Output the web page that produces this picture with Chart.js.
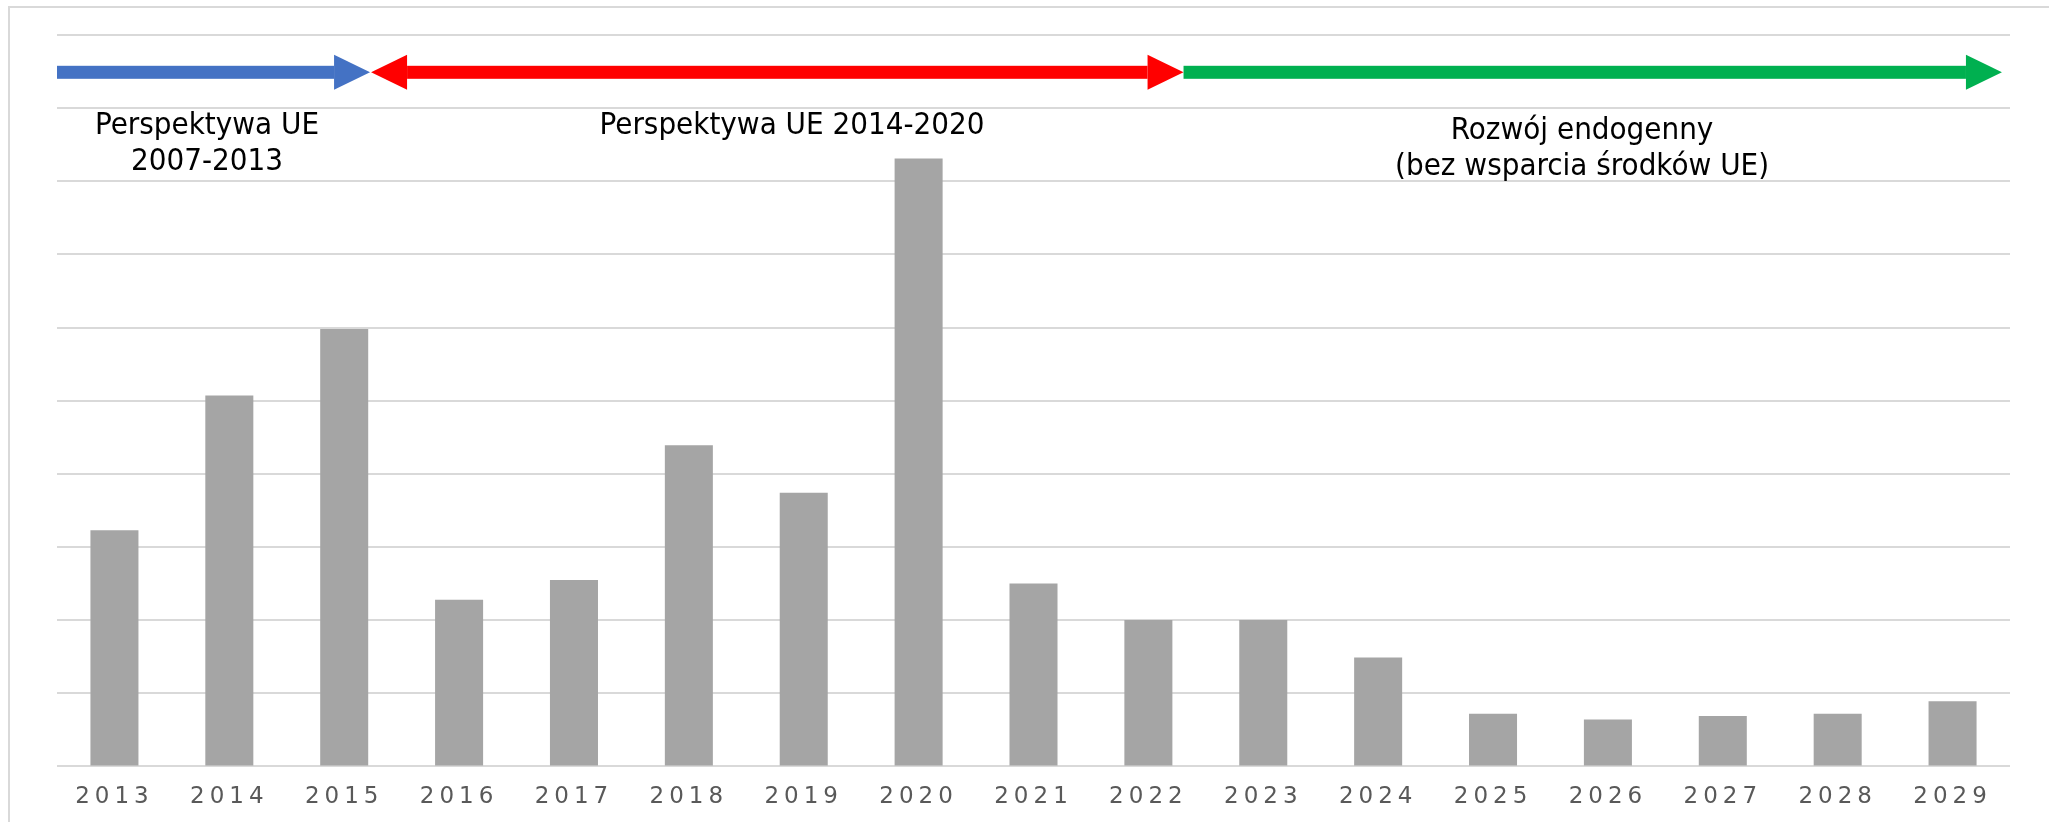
<!DOCTYPE html>
<html>
<head>
<meta charset="utf-8">
<script src="https://cdn.jsdelivr.net/npm/chart.js@4.4.1/dist/chart.umd.min.js"></script>
<style>
  body { margin: 0; background: #fff; }
  #wrap { width: 2049px; height: 822px; }
</style>
</head>
<body>
<div id="wrap"><canvas id="chart" width="2049" height="822"></canvas></div>
<script>
// data (one grid step = 1 unit, no y labels shown)
const years = ["2013", "2014", "2015", "2016", "2017", "2018", "2019", "2020", "2021",
  "2022", "2023", "2024", "2025", "2026", "2027", "2028", "2029"];
const values = [3.23, 5.07, 5.98, 2.28, 2.55, 4.39, 3.74, 8.31, 2.50,
  2.00, 2.00, 1.49, 0.72, 0.64, 0.69, 0.72, 0.89];

// funding periods shown as arrows above the bars
const periodLabels = [
  ["Perspektywa UE", "2007-2013"],
  ["Perspektywa UE 2014-2020"],
  ["Rozwój endogenny", "(bez wsparcia środków UE)"]
];
const periodColors = ["#4472C4", "#FF0000", "#00B050"];
// arrow spans in category units (index of year, fractional)
const periodStart = [-0.5, 2.234, 9.306];
const periodEnd = [2.225, 9.306, 16.43];
const headLeft = [false, true, false];
const headRight = [true, true, true];
// label centres in category units, and first baseline as y value
const labelCentre = [0.806, 5.898, 12.775];
const labelTop = [8.65, 8.65, 8.58];

const textFont = '31px "DejaVu Sans Condensed", "Liberation Sans Narrow", "DejaVu Sans", sans-serif';

//draws frame, arrows and period captions
const periodPlugin = {
  id: "periods",
  beforeDraw(chart) {
    const ctx = chart.ctx;
    ctx.save();
    ctx.strokeStyle = "#d9d9d9";
    ctx.lineWidth = 2;
    ctx.beginPath();
    ctx.moveTo(9, 822);
    ctx.lineTo(9, 7);
    ctx.lineTo(2049, 7);
    ctx.stroke();
    ctx.restore();
    //wide tick labels like the original
    ctx.letterSpacing = "5px";
  },
  afterDraw(chart) {
    const ctx = chart.ctx;
    ctx.letterSpacing = "0px";
    const x = chart.scales.x;
    const y = chart.scales.y;
    const yMid = y.getPixelForValue(9.49);
    const shaft = 6.5;
    const headH = 17.5;
    const headL = 36;

    ctx.save();
    periodColors.forEach((col, i) => {
      let x0 = x.getPixelForValue(periodStart[i]);
      let x1 = x.getPixelForValue(periodEnd[i]);
      ctx.fillStyle = col;
      const s0 = headLeft[i] ? x0 + headL : x0;
      const s1 = headRight[i] ? x1 - headL : x1;
      ctx.fillRect(s0, yMid - shaft, s1 - s0, shaft * 2);
      if (headRight[i]) {
        ctx.beginPath();
        ctx.moveTo(x1 - headL, yMid - headH);
        ctx.lineTo(x1, yMid);
        ctx.lineTo(x1 - headL, yMid + headH);
        ctx.closePath();
        ctx.fill();
      }
      if (headLeft[i]) {
        ctx.beginPath();
        ctx.moveTo(x0 + headL, yMid - headH);
        ctx.lineTo(x0, yMid);
        ctx.lineTo(x0 + headL, yMid + headH);
        ctx.closePath();
        ctx.fill();
      }
    });

    ctx.fillStyle = "#000";
    ctx.font = textFont;
    ctx.textAlign = "center";
    ctx.textBaseline = "alphabetic";
    periodLabels.forEach((lines, i) => {
      const cx = x.getPixelForValue(labelCentre[i]);
      const base = y.getPixelForValue(labelTop[i]);
      lines.forEach((t, j) => {
        ctx.fillText(t, cx, base + j * 36.5);
      });
    });
    ctx.restore();
  }
};

const ctx = document.getElementById("chart").getContext("2d");
const myChart = new Chart(ctx, {
  type: "bar",
  data: {
    labels: years,
    datasets: [
      {
        data: values,
        backgroundColor: "#A5A5A5",
        borderWidth: 0,
        barPercentage: 0.418,
        categoryPercentage: 1,
      },
    ],
  },
  options: {
    responsive: false,
    animation: false,
    devicePixelRatio: 1,
    layout: {
      padding: { left: 57, right: 39, top: 35, bottom: -6 },
    },
    plugins: {
      legend: { display: false },
      tooltip: { enabled: false },
    },
    scales: {
      x: {
        grid: { display: false, drawTicks: false },
        border: { display: false },
        ticks: {
          color: "#595959",
          font: { family: "DejaVu Sans", size: 23 },
          padding: 17,
          maxRotation: 0,
          autoSkip: false,
        },
      },
      y: {
        min: 0,
        max: 10,
        ticks: { display: false, stepSize: 1 },
        grid: { color: "#d9d9d9", lineWidth: 2, drawTicks: false },
        border: { display: false },
      },
    },
  },
  plugins: [periodPlugin],
});
</script>
</body>
</html>
